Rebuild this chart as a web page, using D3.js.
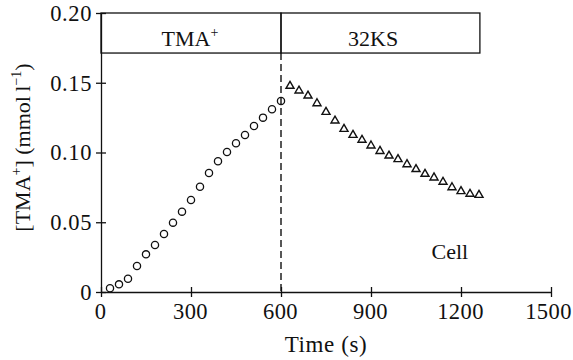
<!DOCTYPE html>
<html>
<head>
<meta charset="utf-8">
<script src="https://cdn.jsdelivr.net/npm/d3@7"></script>
<style>
  body { margin: 0; background: #fff; }
  text { font-family: "Liberation Serif", "Times New Roman", serif; fill: #111; }
</style>
</head>
<body>
<div id="chart"></div>
<script>
// data
const tmaTimes = [30, 60, 90, 120, 150, 180, 210, 240, 270, 300, 330, 360, 390, 420, 450, 480, 510, 540, 570, 600];
const tmaValues = [0.0027, 0.0055, 0.0095, 0.0186, 0.027, 0.0337, 0.0416, 0.0497, 0.0576, 0.066,
  0.0755, 0.0853, 0.0937, 0.1004, 0.1066, 0.1125, 0.119, 0.125, 0.131, 0.137];
const ksTimes = [630, 660, 690, 720, 750, 780, 810, 840, 870, 900, 930, 960, 990, 1020, 1050,
  1080, 1110, 1140, 1170, 1200, 1230, 1260];
const ksValues = [0.1477, 0.1443, 0.1407, 0.1352, 0.129, 0.1228, 0.1168, 0.1125, 0.109, 0.1049, 0.101,
  0.0977, 0.0951, 0.0915, 0.088, 0.0846, 0.082, 0.0789, 0.075, 0.0722, 0.0703, 0.0695];
const xTicks = [0, 300, 600, 900, 1200, 1500];
const yTicks = [0, 0.05, 0.10, 0.15, 0.20];
const yTickLabels = ["0", "0.05", "0.10", "0.15", "0.20"];
const bandLabels = ["TMA", "32KS"];
const bandStart = [0, 600];
const bandEnd = [600, 1263];
const bandBottom = 0.1713;
const switchTime = 600;

let margin = { top: 13, left: 101, right: 22, bottom: 68 },
  width = 573 - margin.left - margin.right,
  height = 360 - margin.top - margin.bottom;

const fs = '22px', fsTick = '22.5px', fsSup = '14px';

let svg = d3.select('#chart')
  .append('svg')
  .attr('width', 573)
  .attr('height', 360);

let g = svg.append('g')
  .attr('transform', `translate(${margin.left},${margin.top})`);

const x = d3.scaleLinear().domain([0, 1500]).range([0, width]);
const y = d3.scaleLinear().domain([0, 0.20]).range([height, 0]);

// x axis with crossing ticks
let xAxis = g.append('g')
  .attr('transform', `translate(0,${height})`)
  .call(d3.axisBottom(x).tickValues(xTicks).tickFormat(d3.format('d'))
    .tickSize(5).tickSizeOuter(0).tickPadding(5));
xAxis.selectAll('.tick line').attr('y1', -5).attr('stroke', '#111').attr('stroke-width', 1.3);
xAxis.select('.domain').attr('stroke', '#111').attr('stroke-width', 1.3);
xAxis.selectAll('text').style('font-size', fsTick).style('letter-spacing', '0.4px').attr('dy', '0.75em')
  .attr('dx', d => d === 1500 ? -3 : -1)
  .style('font-family', '"Liberation Serif", serif');

// y axis with crossing ticks
let yAxis = g.append('g')
  .call(d3.axisLeft(y).tickValues(yTicks).tickFormat((d, i) => yTickLabels[i])
    .tickSize(5).tickSizeOuter(0).tickPadding(4));
yAxis.selectAll('.tick line').attr('x1', 5).attr('stroke', '#111').attr('stroke-width', 1.3);
yAxis.select('.domain').attr('stroke', '#111').attr('stroke-width', 1.3);
yAxis.selectAll('text').style('font-size', fsTick).style('letter-spacing', '0.6px').attr('dy', '0.33em')
  .style('font-family', '"Liberation Serif", serif');

// treatment band boxes
g.selectAll('.band')
  .data(bandLabels)
  .join('rect')
  .attr('class', 'band')
  .attr('x', (d, i) => x(bandStart[i]))
  .attr('y', y(0.20))
  .attr('width', (d, i) => x(bandEnd[i]) - x(bandStart[i]))
  .attr('height', y(bandBottom) - y(0.20))
  .attr('fill', 'none')
  .attr('stroke', '#111')
  .attr('stroke-width', 1.3);

let tmaLabel = g.append('text')
  .attr('x', x(300) - 1)
  .attr('y', 33)
  .attr('text-anchor', 'middle')
  .style('font-size', fs);
tmaLabel.append('tspan').text(bandLabels[0]);
tmaLabel.append('tspan').text('+').attr('dy', -9).style('font-size', fsSup);

g.append('text')
  .attr('x', x(907))
  .attr('y', 33)
  .attr('text-anchor', 'middle')
  .style('font-size', fs)
  .text(bandLabels[1]);

// dashed switch line
g.append('line')
  .attr('x1', x(switchTime)).attr('x2', x(switchTime))
  .attr('y1', y(bandBottom)).attr('y2', y(0))
  .attr('stroke', '#111')
  .attr('stroke-width', 1.4)
  .attr('stroke-dasharray', '7,4');

// TMA+ loading: circles
g.selectAll('.circ')
  .data(tmaTimes)
  .join('circle')
  .attr('class', 'circ')
  .attr('cx', d => x(d))
  .attr('cy', (d, i) => y(tmaValues[i]))
  .attr('r', 3.6)
  .attr('fill', 'none')
  .attr('stroke', '#111')
  .attr('stroke-width', 1.3);

// 32KS washout: triangles
const tri = d3.symbol().type(d3.symbolTriangle).size(28);
g.selectAll('.tri')
  .data(ksTimes)
  .join('path')
  .attr('class', 'tri')
  .attr('d', tri)
  .attr('transform', (d, i) => `translate(${x(d)},${y(ksValues[i])})`)
  .attr('fill', 'none')
  .attr('stroke', '#111')
  .attr('stroke-width', 1.4);

g.append('text')
  .attr('x', x(1163))
  .attr('y', y(0) - 33)
  .attr('text-anchor', 'middle')
  .style('font-size', fs)
  .text('Cell');

// axis titles
svg.append('text')
  .attr('x', margin.left + x(750))
  .attr('y', 352)
  .attr('text-anchor', 'middle')
  .style('font-size', '23px')
  .style('letter-spacing', '0.6px')
  .text('Time (s)');

let yLab = svg.append('text')
  .attr('transform', `translate(30,${margin.top + y(0.1) - 5}) rotate(-90)`)
  .attr('text-anchor', 'middle')
  .style('font-size', fs);
yLab.append('tspan').text('[TMA');
yLab.append('tspan').text('+').attr('dy', -9).style('font-size', fsSup);
yLab.append('tspan').text('] (mmol\u2009l').attr('dy', 9);
yLab.append('tspan').text('\u22121').attr('dy', -9).style('font-size', fsSup);
yLab.append('tspan').text(')').attr('dy', 9);
</script>
</body>
</html>
